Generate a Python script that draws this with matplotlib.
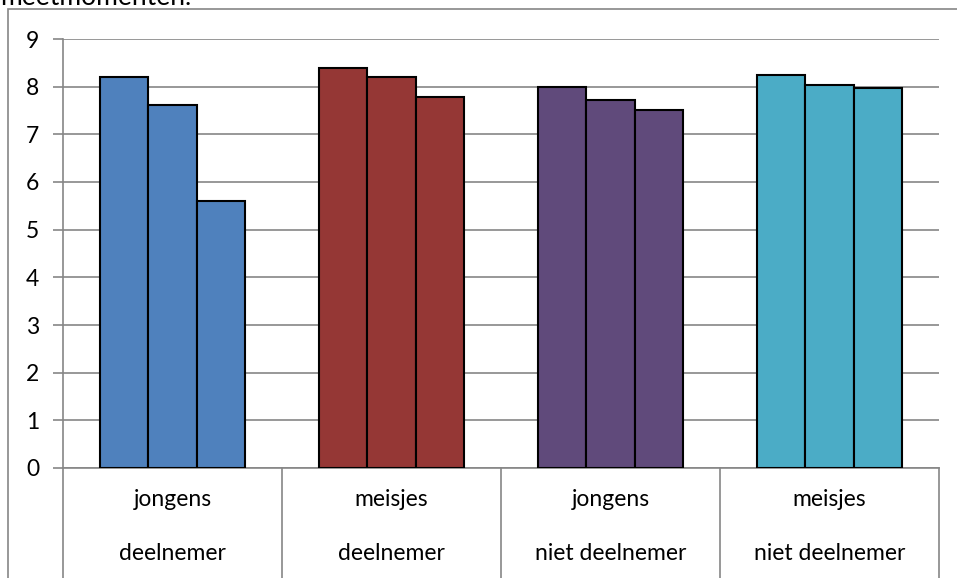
import matplotlib.pyplot as plt
import matplotlib.transforms as mtransforms
from matplotlib.patches import Rectangle

plt.rcParams['font.family'] = ['Lato', 'DejaVu Sans']

groups = ['jongens', 'meisjes', 'jongens', 'meisjes']
status = ['deelnemer', 'deelnemer', 'niet deelnemer', 'niet deelnemer']
meting1 = [8.20, 8.40, 8.00, 8.24]
meting2 = [7.62, 8.21, 7.72, 8.03]
meting3 = [5.60, 7.79, 7.51, 7.97]
colors = ['#4F81BD', '#953735', '#604A7B', '#4BACC6']

W, H = 957, 578
fs = 16.5
fig = plt.figure(figsize=(W / 100, H / 100), dpi=100)

# outer chart frame
fig.patches.append(Rectangle((8 / W, -0.1), 1.1, 1 - 9 / H + 0.1,
                             transform=fig.transFigure, fill=False,
                             edgecolor='#868686', linewidth=1.2))
fig.text(0.0, 1 - 5 / H, 'meetmomenten.', fontsize=19, va='baseline')

left, right, top, bottom = 63, 939, 39, 468
ax = fig.add_axes([left / W, 1 - bottom / H, (right - left) / W, (bottom - top) / H])

bw = 0.222
for i in range(4):
    vals = [meting1[i], meting2[i], meting3[i]]
    for j, v in enumerate(vals):
        ax.bar(i + 0.5 + (j - 1) * bw, v, width=bw, color=colors[i],
               edgecolor='black', linewidth=1.5, zorder=3)

ax.set_xlim(0, 4)
ax.set_ylim(0, 9)
ax.set_yticks(range(10))
ax.set_yticklabels([str(t) for t in range(10)], fontsize=fs)
ax.set_xticks([])
ax.yaxis.grid(True, color='#868686', linewidth=1.2)
ax.tick_params(axis='y', length=7, color='#868686', width=1.2, pad=10)
for s in ['top', 'right']:
    ax.spines[s].set_visible(False)
ax.spines['left'].set_color('#868686')
ax.spines['bottom'].set_color('#868686')
ax.spines['left'].set_linewidth(1.2)
ax.spines['bottom'].set_linewidth(1.2)

# category separators and two-row labels below the axis
trans = mtransforms.blended_transform_factory(ax.transData, ax.transAxes)
depth = (H - bottom + 5) / (bottom - top)
for x in range(5):
    ax.plot([x, x], [0, -depth], transform=trans, color='#868686',
            linewidth=1.2, clip_on=False)
for i in range(4):
    ax.text(i + 0.5, -(500 - bottom) / (bottom - top), groups[i], transform=trans,
            ha='center', va='center', fontsize=fs)
    ax.text(i + 0.5, -(553 - bottom) / (bottom - top), status[i], transform=trans,
            ha='center', va='center', fontsize=fs)

fig.savefig('out.png', dpi=100)
